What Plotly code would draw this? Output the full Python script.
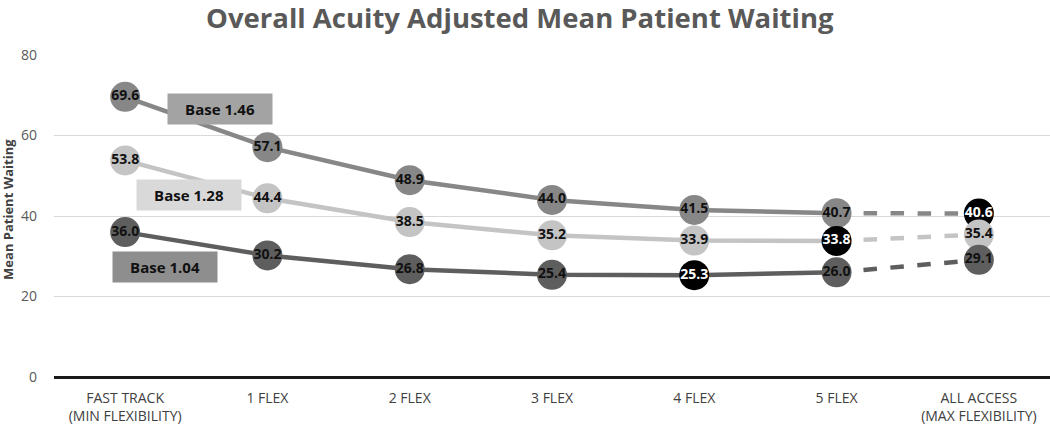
import plotly.graph_objects as go

categories = ["FAST TRACK<br>(MIN FLEXIBILITY)", "1 FLEX", "2 FLEX", "3 FLEX", "4 FLEX", "5 FLEX",
              "ALL ACCESS<br>(MAX FLEXIBILITY)"]
base_146 = [69.6, 57.1, 48.9, 44.0, 41.5, 40.7, 40.6]
base_128 = [53.8, 44.4, 38.5, 35.2, 33.9, 33.8, 35.4]
base_104 = [36.0, 30.2, 26.8, 25.4, 25.3, 26.0, 29.1]
series_names = ["Base 1.46", "Base 1.28", "Base 1.04"]
# index of the highlighted (minimum) point per series
highlight_idx = [6, 5, 4]

colors = ["#878787", "#c4c4c4", "#5e5e5e"]
box_colors = ["#a3a3a3", "#d9d9d9", "#8e8e8e"]
label_pos = [(0.67, 66.7), (0.45, 45.2), (0.28, 27.3)]

fig = go.Figure()
xi = list(range(len(categories)))
all_series = [base_146, base_128, base_104]

for s, vals in enumerate(all_series):
    c = colors[s]
    fig.add_trace(go.Scatter(x=categories[:6], y=vals[:6], mode="lines",
                             line=dict(color=c, width=4.5), showlegend=False, hoverinfo="skip"))
    fig.add_trace(go.Scatter(x=categories[5:], y=vals[5:], mode="lines",
                             line=dict(color=c, width=4.5, dash="dash"), showlegend=False, hoverinfo="skip"))

for s, vals in enumerate(all_series):
    mcols = [("#000000" if i == highlight_idx[s] else colors[s]) for i in xi]
    tcols = [("#ffffff" if i == highlight_idx[s] else "#111111") for i in xi]
    fig.add_trace(go.Scatter(x=categories, y=vals, mode="markers+text",
                             marker=dict(size=30, color=mcols, line=dict(width=0)),
                             text=[f"{v:.1f}" for v in vals], textposition="middle center",
                             textfont=dict(family="Open Sans", size=14, color=tcols, weight="bold"),
                             name=series_names[s], showlegend=False))

for s, name in enumerate(series_names):
    fig.add_annotation(x=label_pos[s][0], y=label_pos[s][1], xref="x", yref="y",
                       text=f"<b>{name}</b>", showarrow=False,
                       font=dict(family="Open Sans", size=15, color="#111111"),
                       bgcolor=box_colors[s], width=104, height=30, borderpad=0)

# y-axis title as a rotated annotation for precise placement
fig.add_annotation(x=-0.0462, y=0.522, xref="paper", yref="paper", textangle=-90,
                   text="<b>Mean Patient Waiting</b>", showarrow=False,
                   xanchor="center", yanchor="middle",
                   font=dict(family="Open Sans", size=13, color="#404040"))

fig.update_layout(
    width=1050, height=427,
    margin=dict(l=54, r=0, t=55, b=50),
    paper_bgcolor="white", plot_bgcolor="white",
    title=dict(text="<b>Overall Acuity Adjusted Mean Patient Waiting</b>", x=0.495, xanchor="center",
               y=0.9567, yanchor="middle",
               font=dict(family="Open Sans", size=27.5, color="#595959")),
    xaxis=dict(type="category", range=[-0.5, 6.5], showgrid=False, showline=False, zeroline=False,
               ticks="", ticklabelstandoff=11,
               tickfont=dict(family="Open Sans", size=14, color="#404040")),
    yaxis=dict(range=[0, 80], dtick=20, showgrid=True, gridcolor="#d9d9d9", gridwidth=1,
               zeroline=True, zerolinecolor="#1a1a1a", zerolinewidth=2.5,
               ticks="", tickfont=dict(family="Open Sans", size=14, color="#595959"),
               ticklabelstandoff=16),
)

fig.write_html("out.html", config={"displayModeBar": False})

# remove the browser's default body margin so the figure fills the window exactly
with open("out.html", "r", encoding="utf-8") as f:
    html = f.read()
html = html.replace("<head>", "<head><style>html,body{margin:0;padding:0;overflow:hidden;}</style>", 1)
with open("out.html", "w", encoding="utf-8") as f:
    f.write(html)
